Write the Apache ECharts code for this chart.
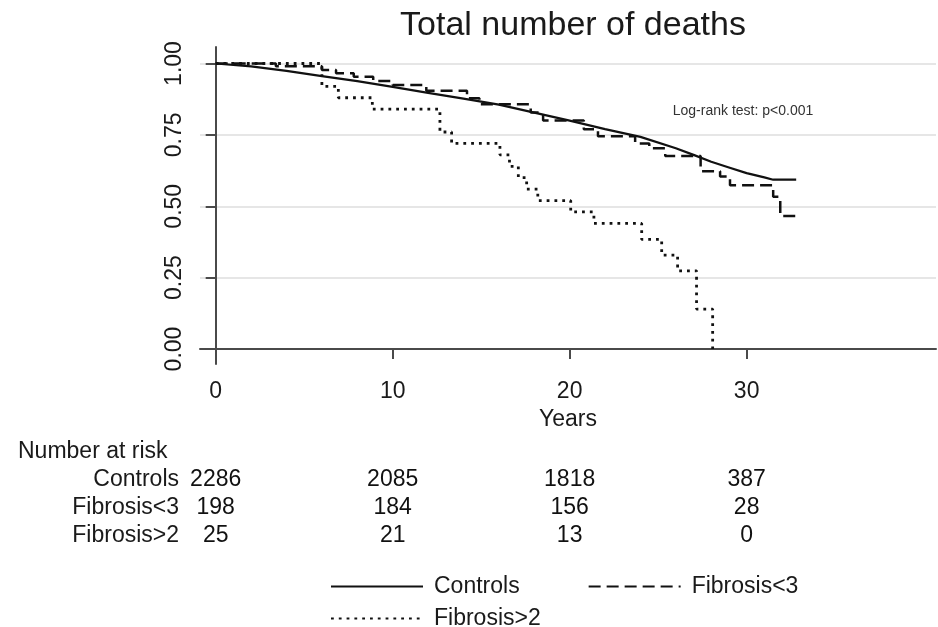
<!DOCTYPE html>
<html><head><meta charset="utf-8">
<script src="https://cdn.jsdelivr.net/npm/echarts@6/dist/echarts.min.js"></script>
<style>html,body{margin:0;padding:0;background:#fff}#c{width:938px;height:627px}</style>
</head><body><div id="c"></div>
<script>
// Kaplan-Meier survival estimates: [years, survival]
const controls = [[0,1.0],[2,0.99],[4,0.974],[6,0.956],[8,0.938],[10,0.918],[12,0.897],[14,0.877],[16,0.856],[18,0.828],[20,0.80],[22,0.77],[24,0.743],[26,0.703],[27,0.68],[28,0.656],[29,0.636],[30,0.616],[31,0.601],[31.5,0.593],[32.8,0.593]];
const fibrosisLt3 = [[0,1.0],[3.4,0.99],[6.0,0.977],[6.8,0.966],[7.8,0.954],[8.9,0.939],[10.0,0.925],[11.9,0.905],[14.2,0.878],[14.9,0.857],[17.8,0.828],[18.5,0.80],[20.8,0.77],[21.6,0.745],[23.7,0.72],[24.5,0.703],[25.4,0.676],[27.4,0.623],[28.5,0.604],[29.06,0.574],[31.5,0.533],[31.9,0.466],[32.8,0.466]];
const fibrosisGt2 = [[0,1.0],[6.0,0.92],[6.93,0.88],[8.85,0.84],[12.67,0.76],[13.33,0.72],[16.06,0.68],[16.6,0.64],[17.1,0.60],[17.57,0.56],[18.2,0.52],[20.06,0.48],[21.37,0.44],[24.07,0.384],[25.2,0.329],[26.1,0.274],[27.17,0.14],[28.08,0.0]];

const xTicks = [0,10,20,30];
const yTicks = [0,0.25,0.5,0.75,1];

const riskTimes = [0,10,20,30];
const riskGroups = ['Controls','Fibrosis<3','Fibrosis>2'];
const riskControls = [2286,2085,1818,387];
const riskFibrosisLt3 = [198,184,156,28];
const riskFibrosisGt2 = [25,21,13,0];

const FONT = "'Liberation Sans', Arial, Helvetica, sans-serif";
const INK = '#1a1a1a';
const AXIS = '#4a4a4a';

const riskValues = [riskControls, riskFibrosisLt3, riskFibrosisGt2];
const riskData = [];
riskGroups.forEach((g, gi) => riskTimes.forEach((t, ti) => riskData.push([t, g, riskValues[gi][ti]])));

const X_MIN = -0.887, X_MAX = 40.7;
const chart = echarts.init(document.getElementById('c'), null, {renderer: 'canvas'});
chart.setOption({
  animation: false,
  backgroundColor: '#fff',
  textStyle: {fontFamily: FONT},
  graphic: [
    {type: 'text', x: 573, y: 26, style: {text: 'Total number of deaths', font: '34px ' + FONT, fill: INK, textAlign: 'center', textVerticalAlign: 'middle'}},
    {type: 'text', x: 743, y: 111, style: {text: 'Log-rank test: p<0.001', font: '14px ' + FONT, fill: '#333', textAlign: 'center', textVerticalAlign: 'middle'}},
    {type: 'text', x: 18, y: 452, style: {text: 'Number at risk', font: '23px ' + FONT, fill: INK, textAlign: 'left', textVerticalAlign: 'middle'}}
  ],
  legend: [
    {data: ['Controls', 'Fibrosis<3'], left: 325, top: 570, itemWidth: 92, itemHeight: 14, itemGap: 68,
     itemStyle: {opacity: 0},
     textStyle: {fontSize: 23, color: INK, fontFamily: FONT, padding: [0,0,0,6]}},
    {data: ['Fibrosis>2'], left: 325, top: 602, itemWidth: 92, itemHeight: 14,
     itemStyle: {opacity: 0},
     textStyle: {fontSize: 23, color: INK, fontFamily: FONT, padding: [0,0,0,6]}}
  ],
  grid: [
    {left: 200, top: 47, width: 736, height: 317},
    {left: 200, top: 466, width: 736, height: 84}
  ],
  xAxis: [
    {type: 'value', gridIndex: 0, min: X_MIN, max: X_MAX,
     name: 'Years', nameLocation: 'middle', nameGap: 44,
     nameTextStyle: {fontSize: 23, color: INK, fontFamily: FONT},
     axisLine: {show: true, lineStyle: {color: AXIS, width: 2}},
     axisTick: {show: true, length: 10, lineStyle: {color: AXIS, width: 2}, customValues: xTicks},
     axisLabel: {fontSize: 23, color: INK, margin: 16, customValues: xTicks, fontFamily: FONT},
     splitLine: {show: false}},
    {type: 'value', gridIndex: 1, min: X_MIN, max: X_MAX, show: false}
  ],
  yAxis: [
    {type: 'value', gridIndex: 0, min: -0.0525, max: 1.0578,
     axisLine: {show: true, lineStyle: {color: AXIS, width: 2}},
     axisTick: {show: true, length: 10, lineStyle: {color: AXIS, width: 2}, customValues: yTicks},
     axisLabel: {fontSize: 23, color: INK, rotate: 90, margin: 14, customValues: yTicks, fontFamily: FONT,
                 formatter: v => Number(v).toFixed(2)},
     splitLine: {show: true, lineStyle: {color: '#dedede', width: 1.5}}},
    {type: 'category', gridIndex: 1, data: riskGroups, inverse: true,
     axisLine: {show: false}, axisTick: {show: false}, splitLine: {show: false},
     axisLabel: {fontSize: 23, color: INK, margin: 21, interval: 0, fontFamily: FONT}}
  ],
  series: [
    {name: 'Controls', type: 'line', xAxisIndex: 0, yAxisIndex: 0, data: controls, symbol: 'none',
     lineStyle: {color: '#111', width: 2.2, type: 'solid'}, itemStyle: {color: '#111'}},
    {name: 'Fibrosis<3', type: 'line', xAxisIndex: 0, yAxisIndex: 0, data: fibrosisLt3, step: 'end', symbol: 'none',
     lineStyle: {color: '#111', width: 2.5, type: [12, 6]}, itemStyle: {color: '#111'}},
    {name: 'Fibrosis>2', type: 'line', xAxisIndex: 0, yAxisIndex: 0, data: fibrosisGt2, step: 'end', symbol: 'none',
     lineStyle: {color: '#111', width: 2.8, type: [2.8, 5]}, itemStyle: {color: '#111'}},
    {name: 'risk', type: 'scatter', xAxisIndex: 1, yAxisIndex: 1, data: riskData, symbolSize: 0,
     itemStyle: {opacity: 1},
     label: {show: true, position: 'inside', fontSize: 23, color: '#111', fontFamily: FONT,
             formatter: p => String(p.value[2])}}
  ]
});
</script></body></html>
